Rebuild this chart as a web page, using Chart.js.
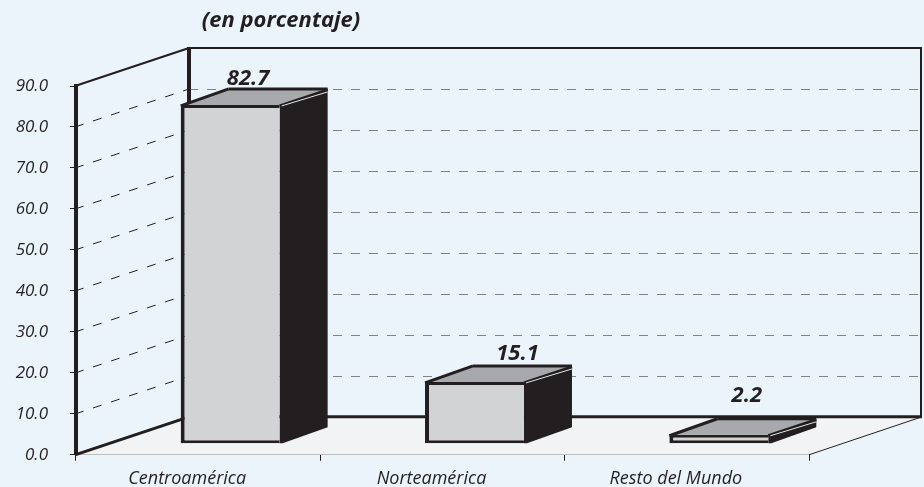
<!DOCTYPE html>
<html>
<head>
<meta charset="utf-8">
<script src="https://cdn.jsdelivr.net/npm/chart.js@4"></script>
<style>
html,body{margin:0;padding:0;background:#ecf4fb;}
#wrap{width:924px;height:487px;position:relative;}
</style>
</head>
<body>
<div id="wrap"><canvas id="c" width="924" height="487"></canvas></div>
<script>
const categories = ["Centroamérica", "Norteamérica", "Resto del Mundo"];
const values = [82.7, 15.1, 2.2];
const titleText = "(en porcentaje)";
const yTicks = [0,10,20,30,40,50,60,70,80,90];

const INK = "#231f20", GRID = "#808285", FLOOR = "#f2f3f5", BG = "#ecf4fb";
const FRONT = "#d1d3d4", TOP = "#a7a9ac";
const WALL = {dx:114, dy:-38};         // back wall offset from front plane
const BAR = {dx:32, dy:-11};           // bars sit mid-floor
const DEPTH = {dx:48, dy:-16};         // bar extrusion
const LABEL_NUDGE = [[18,-26],[43,-28],[28,-39]];

function line(ctx, pts, color, width, dash){
  ctx.save();
  ctx.strokeStyle=color; ctx.lineWidth=width; ctx.setLineDash(dash||[]);
  ctx.beginPath();
  pts.forEach((p,i)=> i?ctx.lineTo(p[0],p[1]):ctx.moveTo(p[0],p[1]));
  ctx.stroke(); ctx.restore();
}
function poly(ctx, pts, fill){
  ctx.fillStyle=fill; ctx.beginPath();
  pts.forEach((p,i)=> i?ctx.lineTo(p[0],p[1]):ctx.moveTo(p[0],p[1]));
  ctx.closePath(); ctx.fill();
}

const scene = {
  id:"scene",
  beforeDatasetsDraw(chart){
    const ctx=chart.ctx, y=chart.scales.y, a=chart.chartArea;
    const L=a.left-1, R=a.right, y0=y.getPixelForValue(0), yT=y.getPixelForValue(90);
    const bx=L+WALL.dx, bR=R+WALL.dx-2;
    // floor
    poly(ctx,[[L,y0],[R,y0],[bR,y0+WALL.dy],[bx,y0+WALL.dy]],FLOOR);
    line(ctx,[[R,y0],[bR+1,y0+WALL.dy]],INK,1);
    // grid on side and back walls
    yTicks.forEach(v=>{
      if(v===0) return;
      const py=Math.round(y.getPixelForValue(v));
      line(ctx,[[L,py],[bx,py+WALL.dy]],INK,1,[9,10]);
      line(ctx,[[bx,py+WALL.dy+0.5],[bR,py+WALL.dy+0.5]],GRID,1,[9,9]);
    });
    // wall frame
    line(ctx,[[L,yT],[bx,yT+WALL.dy]],INK,2);
    line(ctx,[[bx,yT+WALL.dy],[bR+1,yT+WALL.dy]],INK,2);
    line(ctx,[[bx,yT+WALL.dy-1],[bx,y0+WALL.dy]],INK,4);
    line(ctx,[[L,y0],[bx,y0+WALL.dy]],INK,3);
    line(ctx,[[bx,y0+WALL.dy],[bR+1,y0+WALL.dy]],INK,3);
    line(ctx,[[bR,yT+WALL.dy],[bR,y0+WALL.dy]],INK,2);
  },
  beforeDatasetDraw(chart){
    const ctx=chart.ctx;
    ctx.save();
    ctx.translate(BAR.dx,BAR.dy);
    chart.getDatasetMeta(0).data.forEach(el=>{
      const p=el.getProps(["x","y","base","width"],true);
      const l=p.x-p.width/2, r=p.x+p.width/2, t=p.y, b=p.base;
      const dx=DEPTH.dx, dy=DEPTH.dy;
      poly(ctx,[[r,t],[r+dx,t+dy],[r+dx,b+dy],[r+3,b],[r,b]],INK);
      poly(ctx,[[l,t],[l+dx,t+dy],[r+dx,t+dy],[r,t]],TOP);
      line(ctx,[[l,t+1],[l+dx,t+dy]],INK,3);
      line(ctx,[[l+dx,t+dy],[r+dx,t+dy]],INK,3);
      line(ctx,[[r,t+1],[r+dx,t+dy+1]],INK,3);
      line(ctx,[[r+2,t+1],[r+dx,t+dy+3]],"#e6e7e8",1);
    });
  },
  afterDatasetDraw(chart){
    chart.ctx.restore();
  },
  afterDraw(chart){
    const ctx=chart.ctx;
    ctx.save();
    ctx.fillStyle=INK;
    ctx.textAlign="center"; ctx.textBaseline="middle";
    ctx.font='italic 700 22px "Open Sans"';
    ctx.fillText(titleText,281,21);
    chart.getDatasetMeta(0).data.forEach((el,i)=>{
      const n=LABEL_NUDGE[i];
      ctx.font='italic 700 22px "Open Sans"';
      ctx.fillText(values[i].toFixed(1), el.x+BAR.dx+n[0], el.y+BAR.dy+n[1]);
    });
    ctx.restore();
  }
};

new Chart(document.getElementById("c"),{
  type:"bar",
  data:{labels:categories,datasets:[{
    data:values,
    backgroundColor:FRONT,
    borderColor:INK,
    borderWidth:{left:4,top:3,bottom:3,right:0},
    borderSkipped:false,
    categoryPercentage:1,
    barPercentage:0.405,
    clip:false
  }]},
  plugins:[scene],
  options:{
    responsive:false,
    animation:false,
    layout:{padding:{top:86,right:115,left:0,bottom:0}},
    plugins:{legend:{display:false},tooltip:{enabled:false},title:{display:false}},
    scales:{
      x:{
        afterFit(s){s.height=32;},
        grid:{drawOnChartArea:false,drawTicks:true,tickLength:6,color:INK,lineWidth:1},
        border:{color:INK,width:1},
        ticks:{color:INK,maxRotation:0,autoSkip:false,padding:7,labelOffset:-11,
          font:{family:'"Open Sans"',style:"italic",size:18}}
      },
      y:{
        min:0,max:90,
        afterFit(s){s.width=76;},
        afterBuildTicks(s){s.ticks=yTicks.map(v=>({value:v}));},
        grid:{drawOnChartArea:false,drawTicks:true,tickLength:6,color:INK,lineWidth:1},
        border:{color:INK,width:4},
        ticks:{color:INK,padding:22,callback:v=>v.toFixed(1),
          font:{family:'"Open Sans"',style:"italic",size:17}}
      }
    }
  }
});
</script>
</body>
</html>
